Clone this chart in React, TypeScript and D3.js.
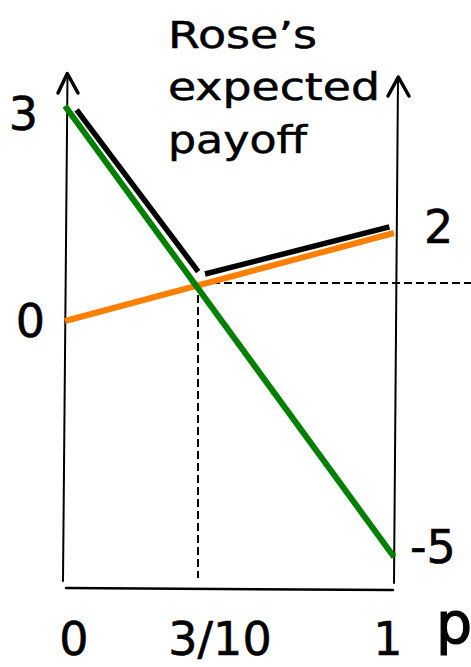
import React from "react";
import * as d3 from "d3";

// Schematic chart: Rose's expected payoff as a function of p
const pBreaks = [0, 0.3, 1];
const pTickLabels = ["0", "3/10", "1"];
const orangeSeries = [
  { p: 0, v: 0 },
  { p: 1, v: 2 },
];
const greenSeries = [
  { p: 0, v: 3 },
  { p: 1, v: -5 },
];
const crossing = { p: 0.3, v: 0.6 };
const leftLabels = [
  { text: "3", v: 3 },
  { text: "0", v: 0 },
];
const rightLabels = [
  { text: "2", v: 2 },
  { text: "-5", v: -5 },
];
const titleLines = ["Rose\u2019s", "expected", "payoff"];

const W = 471;
const H = 667;
const FONT = "'DejaVu Sans', sans-serif";

export default function App() {
  // schematic (hand-drawn) chart, so piecewise-linear scales
  const x = d3.scaleLinear().domain(pBreaks).range([65, 198, 394]);
  const y = d3
    .scaleLinear()
    .domain([-5, 0, crossing.v, 2, 3])
    .range([557, 321, 283, 233, 106]);

  const line = d3
    .line<{ p: number; v: number }>()
    .x((d) => x(d.p))
    .y((d) => y(d.v));

  // black upper envelope, drawn slightly offset from the coloured lines
  const offsetSeg = (
    a: { p: number; v: number },
    b: { p: number; v: number },
    off: number,
    trimStart: number,
    trimEnd: number
  ) => {
    const x0 = x(a.p), y0 = y(a.v), x1 = x(b.p), y1 = y(b.v);
    const dx = x1 - x0, dy = y1 - y0;
    const L = Math.hypot(dx, dy);
    const ux = dx / L, uy = dy / L;
    let nx = -uy, ny = ux;
    if (ny > 0) { nx = -nx; ny = -ny; }
    return [
      [x0 + ux * trimStart + nx * off, y0 + uy * trimStart + ny * off],
      [x1 - ux * trimEnd + nx * off, y1 - uy * trimEnd + ny * off],
    ] as [number, number][];
  };

  const seg1 = offsetSeg(greenSeries[0], crossing, 7, 10, 9);
  const seg2 = offsetSeg(crossing, orangeSeries[1], 7, 9, 3);
  const blackLine = d3.line();

  const x0 = x(0), x1 = x(1);
  const axisY0 = 588, axisY1 = 590;

  return (
    <svg
      width={W}
      height={H}
      style={{ position: "absolute", left: 0, top: 0, background: "#fff" }}
    >
      <rect x={0} y={0} width={W} height={H} fill="#fff" />
      {/* axes */}
      <g stroke="#000" fill="none" strokeLinecap="round" strokeLinejoin="round">
        <line x1={x0 + 2.5} y1={75} x2={x0 - 2} y2={581} strokeWidth={2} />
        <polyline
          points={`${x0 - 7},${93} ${x0 + 2.3},${73.5} ${x0 + 13},${93}`}
          strokeWidth={3.5}
        />
        <line x1={x1 + 4} y1={78} x2={x1} y2={583} strokeWidth={2} />
        <polyline
          points={`${x1 - 6},${96} ${x1 + 4.3},${77} ${x1 + 15},${96}`}
          strokeWidth={3.5}
        />
        <line x1={x0 + 1} y1={axisY0} x2={x1 - 1} y2={axisY1} strokeWidth={2.5} />
      </g>

      {/* dashed guides */}
      <g stroke="#000" strokeWidth={2} strokeDasharray="8,4" fill="none">
        <line x1={x(crossing.p)} y1={y(crossing.v)} x2={x(crossing.p)} y2={578} />
        <line x1={x(crossing.p) + 2} y1={y(crossing.v)} x2={W} y2={y(crossing.v)} />
      </g>

      {/* black envelope */}
      <path d={blackLine(seg1) ?? ""} stroke="#000" strokeWidth={5.5} fill="none" />
      <path d={blackLine(seg2) ?? ""} stroke="#000" strokeWidth={5.5} fill="none" />

      {/* strategy lines */}
      <path d={line(orangeSeries) ?? ""} stroke="#ff7f00" strokeWidth={6} fill="none" />
      <path d={line(greenSeries) ?? ""} stroke="#008000" strokeWidth={6} fill="none" />

      {/* value labels */}
      <g fontFamily={FONT} fontSize={46} fill="#000" stroke="#000" strokeWidth={0.6}>
        <text x={x0 - 27} y={y(leftLabels[0].v) + 24} textAnchor="end">
          {leftLabels[0].text}
        </text>
        <text x={x0 - 20} y={y(leftLabels[1].v) + 16} textAnchor="end">
          {leftLabels[1].text}
        </text>
        <text x={x1 + 30} y={y(rightLabels[0].v) + 10}>
          {rightLabels[0].text}
        </text>
        <text x={x1 + 16} y={y(rightLabels[1].v) + 6}>
          {rightLabels[1].text}
        </text>
        <text x={x(pBreaks[0]) + 9} y={655} textAnchor="middle">
          {pTickLabels[0]}
        </text>
        <text x={x(pBreaks[1]) + 22} y={655} textAnchor="middle">
          {pTickLabels[1]}
        </text>
        <text x={x(pBreaks[2]) - 6} y={655} textAnchor="middle">
          {pTickLabels[2]}
        </text>
        <text x={436} y={643} fontSize={57} strokeWidth={1.2}>
          p
        </text>
      </g>

      {/* title */}
      <g fontFamily={FONT} fontSize={37} fill="#000" stroke="#000" strokeWidth={0.5}>
        <text x={168} y={48} textLength={149} lengthAdjust="spacingAndGlyphs">
          {titleLines[0]}
        </text>
        <text x={168} y={100} textLength={212} lengthAdjust="spacingAndGlyphs">
          {titleLines[1]}
        </text>
        <text x={168} y={153} textLength={139} lengthAdjust="spacingAndGlyphs">
          {titleLines[2]}
        </text>
      </g>
    </svg>
  );
}
